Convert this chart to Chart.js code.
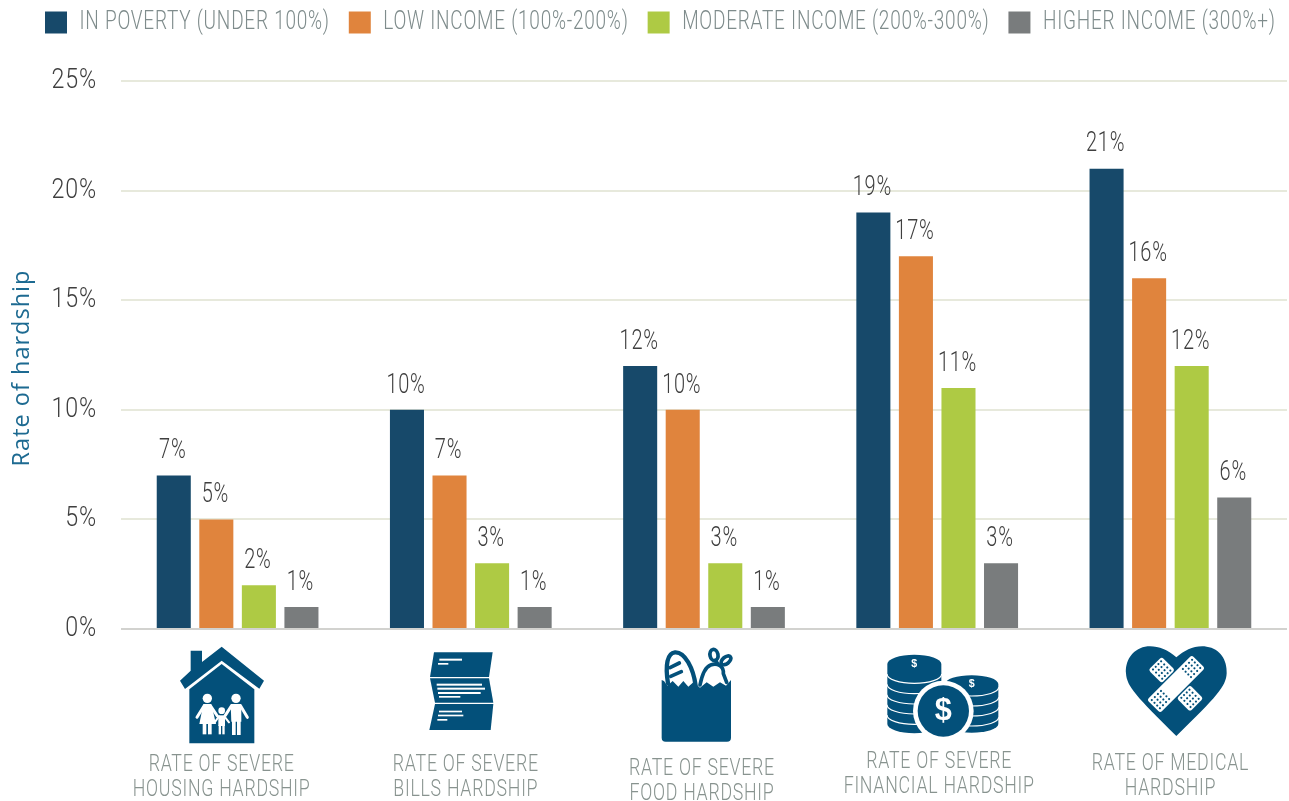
<!DOCTYPE html>
<html>
<head>
<meta charset="utf-8">
<title>Rate of hardship</title>
<style>html,body{margin:0;padding:0;background:#fff}canvas{display:block}</style>
<script src="https://cdn.jsdelivr.net/npm/chart.js@4/dist/chart.umd.min.js"></script>
</head>
<body>
<canvas id="c" width="1289" height="801"></canvas>
<script>
const categories = [
  ["RATE OF SEVERE","HOUSING HARDSHIP"],
  ["RATE OF SEVERE","BILLS HARDSHIP"],
  ["RATE OF SEVERE","FOOD HARDSHIP"],
  ["RATE OF SEVERE","FINANCIAL HARDSHIP"],
  ["RATE OF MEDICAL","HARDSHIP"]
];
const seriesNames = ["IN POVERTY (UNDER 100%)","LOW INCOME (100%-200%)","MODERATE INCOME (200%-300%)","HIGHER INCOME (300%+)"];
const inPoverty = [7,10,12,19,21];
const lowIncome = [5,7,10,17,16];
const moderateIncome = [2,3,3,11,12];
const higherIncome = [1,1,1,3,6];
const seriesColors = ["#17496a","#e0843d","#aeca44","#797c7d"];
const yTicks = [0,5,10,15,20,25];

const NARROW = 'Roboto,sans-serif';
const SQUEEZE = {"25":0.76,"24.5":0.725,"28":0.83,"27":0.74};
const ICON = "#03507a";
const labelShift = [[-16,0],[-5,0],[-2,4],[2,-3],[0,-1]];

function iconHouse(c){
  c.fillStyle=ICON;
  c.beginPath();c.moveTo(155,20);c.lineTo(282,122);c.lineTo(268,146);c.lineTo(155,62);c.lineTo(45,147);c.lineTo(30,122);
  c.lineTo(62,92);c.lineTo(62,32);c.lineTo(96,32);c.lineTo(96,66);c.closePath();c.fill();
  c.beginPath();c.moveTo(155,72);c.lineTo(253,148);c.lineTo(253,310);c.lineTo(58,310);c.lineTo(58,148);c.closePath();c.fill();
  c.fillStyle="#fff";c.strokeStyle="#fff";c.lineCap="round";
  const circ=(x,y,r)=>{c.beginPath();c.arc(x,y,r,0,7);c.fill();};
  const poly=(p)=>{c.beginPath();p.forEach((q,i)=>i?c.lineTo(q[0],q[1]):c.moveTo(q[0],q[1]));c.closePath();c.fill();};
  const seg=(a,b,d,e,w)=>{c.lineWidth=w;c.beginPath();c.moveTo(a,b);c.lineTo(d,e);c.stroke();};
  circ(112,175,14);circ(198,175,14);circ(155,212,10);
  poly([[100,192],[124,192],[138,252],[88,252]]);
  c.fillRect(98,250,11,33);c.fillRect(114,250,11,33);
  seg(102,198,81,232,9);seg(122,198,142,228,9);
  poly([[182,192],[214,192],[214,245],[184,245]]);
  c.fillRect(186,240,11,45);c.fillRect(201,240,11,45);
  seg(184,198,166,226,9);seg(212,198,232,232,9);
  poly([[145,226],[165,226],[165,258],[145,258]]);
  c.fillRect(146,255,7,28);c.fillRect(157,255,7,28);
  seg(147,229,134,247,6);seg(163,229,177,247,6);
}
function iconBills(c){
  c.fillStyle=ICON;
  const poly=(p)=>{c.beginPath();p.forEach((q,i)=>i?c.lineTo(q[0],q[1]):c.moveTo(q[0],q[1]));c.closePath();c.fill();};
  poly([[42,22],[218,22],[207,96],[30,96]]);
  poly([[30,100],[207,100],[220,173],[45,173]]);
  poly([[45,177],[220,177],[212,255],[28,255]]);
  c.fillStyle="#fff";
  [[58,41,68,6],[54,54,31,5],[50,116,136,6],[52,128,143,6],[54,141,128,6],[57,153,64,5],[57,197,69,5],[54,209,76,5],[52,222,30,5]]
    .forEach(r=>c.fillRect(r[0],r[1],r[2],r[3]));
}
function iconFood(c){
  c.fillStyle=ICON;c.strokeStyle=ICON;c.lineCap="round";c.lineJoin="round";
  c.lineWidth=13;
  c.beginPath();c.moveTo(54,115);c.bezierCurveTo(45,60,52,24,75,22);c.bezierCurveTo(105,20,130,70,137,122);c.stroke();
  c.lineWidth=11;
  c.beginPath();c.moveTo(60,68);c.lineTo(88,54);c.moveTo(62,94);c.lineTo(94,80);c.stroke();
  c.lineWidth=11;
  c.beginPath();c.moveTo(150,120);c.bezierCurveTo(156,90,165,66,182,60);c.bezierCurveTo(205,52,222,66,220,86);c.lineTo(230,112);c.stroke();
  c.lineWidth=11;
  c.beginPath();c.ellipse(192,30,12,17,-0.2,0,7);c.stroke();
  c.beginPath();c.ellipse(228,46,10,17,0.9,0,7);c.stroke();
  c.beginPath();c.moveTo(196,46);c.lineTo(204,58);c.stroke();
  c.beginPath();
  [[35,105],[42,108],[52,122],[68,108],[85,125],[100,108],[115,125],[130,112],[150,128],[170,112],[190,125],[210,112],[228,122],[243,105]]
    .forEach((q,i)=>i?c.lineTo(q[0],q[1]):c.moveTo(q[0],q[1]));
  c.lineTo(243,278);c.quadraticCurveTo(243,290,231,290);c.lineTo(47,290);c.quadraticCurveTo(35,290,35,278);c.closePath();c.fill();
}
function iconCoins(c){
  const stack=(cx,rx,top,ry,bottom,arcs)=>{
    c.fillStyle=ICON;
    c.beginPath();c.ellipse(cx,top,rx,ry,0,Math.PI,0);c.lineTo(cx+rx,bottom);c.ellipse(cx,bottom,rx,ry,0,0,Math.PI);c.closePath();c.fill();
    c.strokeStyle="#fff";c.lineWidth=3.5;
    arcs.forEach(y=>{c.beginPath();c.ellipse(cx,y,rx+1,ry,0,0,Math.PI);c.stroke();});
  };
  stack(275,80,102,26,222,[112,142,172,202]);
  stack(103,81,42,28,222,[72,103,134,164,195]);
  c.fillStyle="#fff";c.beginPath();c.arc(190,183,91,0,7);c.fill();
  c.fillStyle=ICON;c.beginPath();c.arc(190,183,77,0,7);c.fill();
  c.fillStyle="#fff";c.textAlign="center";c.textBaseline="middle";
  c.font='bold 92px "Liberation Sans",sans-serif';c.fillText("$",190,186);
  c.font='bold 32px "Liberation Sans",sans-serif';c.fillText("$",103,43);c.fillText("$",275,102);
}
function iconHeart(c){
  c.fillStyle=ICON;
  c.beginPath();c.moveTo(169,52);c.bezierCurveTo(140,25,105,15,75,20);c.bezierCurveTo(35,28,15,65,18,100);
  c.bezierCurveTo(20,140,50,170,169,288);c.bezierCurveTo(290,170,318,140,320,100);c.bezierCurveTo(322,60,300,25,260,20);c.bezierCurveTo(225,15,195,30,169,52);c.closePath();c.fill();
  const piece=(x,y,w,h,rot,dots)=>{
    c.save();c.translate(x,y);c.rotate(rot);
    c.fillStyle="#fff";c.beginPath();c.roundRect(-w/2,-h/2,w,h,8);c.fill();
    c.fillStyle=ICON;
    dots.forEach(d=>{for(let i=0;i<4;i++)for(let j=0;j<4;j++){c.beginPath();c.arc(d+(i-1.5)*13,(j-1.5)*11.5,3.2,0,7);c.fill();}});
    c.restore();
  };
  piece(125,90,56,56,Math.PI/4,[0]);
  piece(210,175,56,56,Math.PI/4,[0]);
  piece(168,132,190,56,-Math.PI/4,[-66,66]);
}
const icons = [
  [iconHouse,170,640],[iconBills,420,645],[iconFood,650,645],[iconCoins,880,650],[iconHeart,1120,640]
];

// The reference uses a condensed face that is not installed: squeeze Roboto horizontally.
function squeezeText(c){
  const fill=c.fillText.bind(c), measure=c.measureText.bind(c);
  const k=()=>{
    if(!c.font.includes("Roboto")) return 1;
    const m=c.font.match(/([\d.]+)px/);
    return SQUEEZE[m[1]]||0.75;
  };
  c.fillText=(t,x,y,m)=>{const s=k();c.save();c.translate(x,y);c.scale(s,1);fill(t,0,0,m);c.restore();};
  c.measureText=(t)=>({width:measure(t).width*k()});
}

const hardshipExtras = {
  id:"hardshipExtras",
  beforeUpdate(chart){
    chart.ctx.letterSpacing="1px";
    const lg=chart.legend;
    if(!lg._wrapped){
      lg._wrapped=true;
      const fit=lg.fit;
      lg.fit=function(){fit.call(this);this.height=90;};
    }
  },
  beforeDraw(chart){
    chart.ctx.letterSpacing="1px";
    chart.legend.left=26;
    chart.legend.right=1320;
    chart.scales.x.getLabelItems(chart.chartArea).forEach((it,i)=>{
      if(it._moved) return;
      it._moved=true;
      it.options.translation[0]+=labelShift[i][0];
      it.options.translation[1]+=labelShift[i][1];
    });
    const y=chart.scales.y;
    if(!y._wrapped){
      y._wrapped=true;
      const dt=y.drawTitle;
      y.drawTitle=function(){chart.ctx.save();chart.ctx.translate(0,13);dt.call(this);chart.ctx.restore();};
    }
  },
  afterDatasetsDraw(chart){
    const c=chart.ctx;
    c.save();
    c.font='300 27px '+NARROW;c.fillStyle="#3f3f3f";c.textAlign="center";c.textBaseline="middle";
    chart.data.datasets.forEach((ds,di)=>{
      chart.getDatasetMeta(di).data.forEach((bar,i)=>{
        c.fillText(ds.data[i]+"%",bar.x-1,bar.y-24);
      });
    });
    c.restore();
  },
  afterDraw(chart){
    const c=chart.ctx;
    icons.forEach(([fn,x,y])=>{
      c.save();c.letterSpacing="0px";c.translate(x,y);c.scale(1/3,1/3);fn(c);c.restore();
    });
  }
};

const canvas=document.getElementById("c");
squeezeText(canvas.getContext("2d"));

new Chart(canvas,{
  type:"bar",
  plugins:[hardshipExtras],
  data:{
    labels:categories,
    datasets:[
      {label:seriesNames[0],data:inPoverty,backgroundColor:seriesColors[0]},
      {label:seriesNames[1],data:lowIncome,backgroundColor:seriesColors[1]},
      {label:seriesNames[2],data:moderateIncome,backgroundColor:seriesColors[2]},
      {label:seriesNames[3],data:higherIncome,backgroundColor:seriesColors[3]}
    ]
  },
  options:{
    responsive:false,
    animation:false,
    categoryPercentage:0.73,
    barPercentage:0.8,
    layout:{padding:{top:-9,right:2,left:0,bottom:0}},
    plugins:{
      tooltip:{enabled:false},
      legend:{
        position:"top",align:"start",
        onClick:null,
        labels:{boxWidth:22,boxHeight:22,padding:19,color:"#7f8c8c",font:{family:NARROW,size:25,weight:"300"}}
      }
    },
    scales:{
      x:{
        grid:{display:false},border:{display:false},
        afterFit(s){s.height=172;s.paddingLeft=0;s.paddingRight=0;},
        ticks:{padding:116,color:"#88938f",maxRotation:0,autoSkip:false,font:{family:NARROW,size:24.5,weight:"300",lineHeight:1}}
      },
      y:{
        min:0,max:25,
        afterBuildTicks(s){s.ticks=yTicks.map(v=>({value:v}));},
        afterFit(s){s.width=121;},
        border:{display:false},
        grid:{drawTicks:false,lineWidth:2,color:(ctx)=>ctx.tick.value===0?"#d2d2cf":"#e7e9dc"},
        ticks:{padding:24,color:"#3f3f3f",font:{family:NARROW,size:28,weight:"300"},callback:(v)=>v+"%"},
        title:{display:true,text:"Rate of hardship",color:"#1d6a91",padding:8,font:{family:'"Open Sans",sans-serif',size:23.5,weight:"400"}}
      }
    }
  }
});
</script>
</body>
</html>
